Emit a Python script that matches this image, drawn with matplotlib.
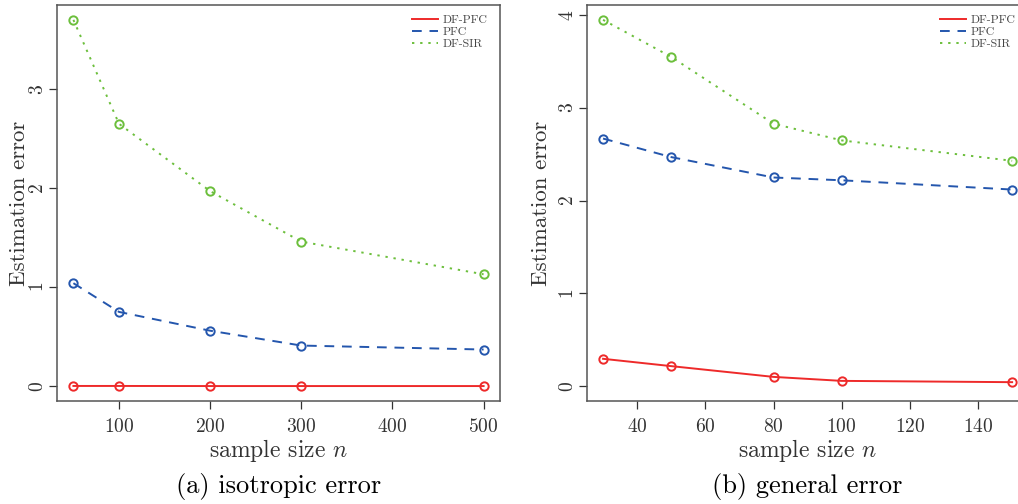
import matplotlib
matplotlib.use("Agg")
import matplotlib.pyplot as plt
from matplotlib.lines import Line2D

plt.rcParams["font.family"] = ["cmr10", "DejaVu Serif"]
plt.rcParams["mathtext.fontset"] = "cm"
plt.rcParams["axes.formatter.use_mathtext"] = True

# isotropic error
n_iso = [50, 100, 200, 300, 500]
iso_dfpfc = [0.002, 0.002, 0.001, 0.001, 0.001]
iso_pfc = [1.04, 0.75, 0.56, 0.41, 0.37]
iso_dfsir = [3.70, 2.65, 1.97, 1.46, 1.13]

# general error
n_gen = [30, 50, 80, 100, 150]
gen_dfpfc = [0.295, 0.216, 0.10, 0.057, 0.043]
gen_pfc = [2.67, 2.47, 2.25, 2.22, 2.12]
gen_dfsir = [3.95, 3.55, 2.83, 2.65, 2.43]

RED = "#ee2a2a"
BLUE = "#2456ad"
GREEN = "#6cbf3c"
DASH = (0, (5, 4))
DOT = (0, (1.2, 3))

FIG_W, FIG_H = 1018, 504


def panel(ax, x, dfpfc, pfc, dfsir, xticks, yticks, xlim, ylim, caption,
          ylab_off):
    kw = dict(marker="o", markersize=6, markerfacecolor="none",
              markeredgewidth=1.4, linewidth=1.4)
    ax.plot(x, dfpfc, color=RED, linestyle="-", **kw)
    ax.plot(x, pfc, color=BLUE, linestyle=DASH, **kw)
    ax.plot(x, dfsir, color=GREEN, linestyle=DOT, **kw)

    ax.set_xlim(*xlim)
    ax.set_ylim(*ylim)
    ax.set_xticks(xticks)
    ax.set_yticks(yticks)
    ax.tick_params(direction="out", length=6, width=0.9, labelsize=14,
                   color="#333333", labelcolor="#333333")
    ax.tick_params(axis="x", pad=6)
    ax.tick_params(axis="y", pad=1)
    for lab in ax.get_yticklabels():
        lab.set_rotation(90)
        lab.set_va("center")
    for sp in ax.spines.values():
        sp.set_color("#555555")
        sp.set_linewidth(1.1)

    # axis titles at fixed pixel offsets from the frame
    bbox = ax.get_position()
    ax_w = bbox.width * FIG_W
    ax_h = bbox.height * FIG_H
    ax.set_ylabel("Estimation error", fontsize=16.5, color="#333333")
    ax.yaxis.set_label_coords(-ylab_off / ax_w, 0.5)
    ax.set_xlabel("sample size $n$", fontsize=17, color="#333333")
    ax.xaxis.set_label_coords(0.5, -49 / ax_h)
    ax.xaxis.label.set_va("center")
    ax.yaxis.label.set_va("center")
    ax.text(0.5, -85 / ax_h, caption, transform=ax.transAxes, ha="center",
            va="center", fontsize=19, color="black")

    handles = [
        Line2D([], [], color=RED, linestyle="-", linewidth=1.4),
        Line2D([], [], color=BLUE, linestyle=DASH, linewidth=1.4),
        Line2D([], [], color=GREEN, linestyle=DOT, linewidth=1.4),
    ]
    leg = ax.legend(handles, ["DF-PFC", "PFC", "DF-SIR"], loc="upper right",
                    frameon=False, fontsize=8.5, handlelength=2.2,
                    handletextpad=0.4, labelspacing=0.15, borderaxespad=0.0,
                    bbox_to_anchor=(1 - 8 / ax_w, 1 - 5 / ax_h))
    for t in leg.get_texts():
        t.set_color("#444444")


fig = plt.figure(figsize=(FIG_W / 100, FIG_H / 100), dpi=100)
ax1 = fig.add_axes([57 / FIG_W, 103 / FIG_H, 443 / FIG_W, 396 / FIG_H])
ax2 = fig.add_axes([586.7 / FIG_W, 103 / FIG_H, 441.8 / FIG_W, 396 / FIG_H])

panel(ax1, n_iso, iso_dfpfc, iso_pfc, iso_dfsir,
      [100, 200, 300, 400, 500], [0, 1, 2, 3],
      (32, 518), (-0.15, 3.85), "(a) isotropic error", 38)
panel(ax2, n_gen, gen_dfpfc, gen_pfc, gen_dfsir,
      [40, 60, 80, 100, 120, 140], [0, 1, 2, 3, 4],
      (25.2, 154.8), (-0.16, 4.11), "(b) general error", 45)

fig.savefig("out.png", dpi=100)
